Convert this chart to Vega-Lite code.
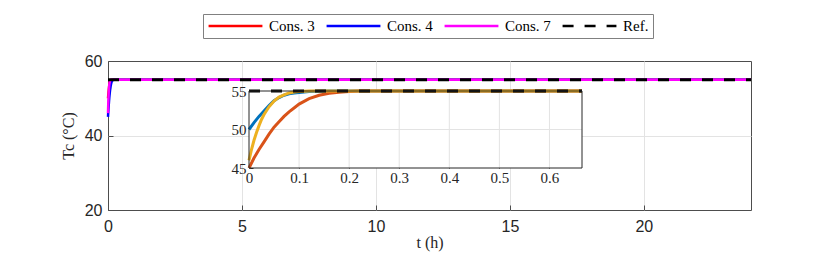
{
  "$schema": "https://vega.github.io/schema/vega-lite/v6.json",
  "autosize": {"type": "none"},
  "width": 643,
  "height": 149,
  "padding": {"left": 108, "top": 61, "right": 79, "bottom": 50},
  "background": "white",
  "config": {
    "view": {"stroke": "#4d4d4d", "strokeWidth": 1},
    "axis": {"domain": false, "ticks": false, "labelColor": "#262626", "titleColor": "#262626", "labelFlush": false}
  },
  "datasets": {
    "series": [
      {"series": "Cons. 3", "t": 0, "T": 50},
      {"series": "Cons. 3", "t": 0.01, "T": 50.9},
      {"series": "Cons. 3", "t": 0.02, "T": 51.7},
      {"series": "Cons. 3", "t": 0.03, "T": 52.4},
      {"series": "Cons. 3", "t": 0.04, "T": 53.1},
      {"series": "Cons. 3", "t": 0.05, "T": 53.75},
      {"series": "Cons. 3", "t": 0.06, "T": 54.15},
      {"series": "Cons. 3", "t": 0.07, "T": 54.45},
      {"series": "Cons. 3", "t": 0.08, "T": 54.65},
      {"series": "Cons. 3", "t": 0.09, "T": 54.75},
      {"series": "Cons. 3", "t": 0.1, "T": 54.82},
      {"series": "Cons. 3", "t": 0.12, "T": 54.92},
      {"series": "Cons. 3", "t": 0.14, "T": 54.97},
      {"series": "Cons. 3", "t": 0.16, "T": 55},
      {"series": "Cons. 3", "t": 0.665, "T": 55},
      {"series": "Cons. 3", "t": 24, "T": 55},
      {"series": "Cons. 4", "t": 0, "T": 45},
      {"series": "Cons. 4", "t": 0.01, "T": 46.3},
      {"series": "Cons. 4", "t": 0.02, "T": 47.4},
      {"series": "Cons. 4", "t": 0.03, "T": 48.4},
      {"series": "Cons. 4", "t": 0.04, "T": 49.4},
      {"series": "Cons. 4", "t": 0.05, "T": 50.3},
      {"series": "Cons. 4", "t": 0.06, "T": 51.0},
      {"series": "Cons. 4", "t": 0.07, "T": 51.7},
      {"series": "Cons. 4", "t": 0.08, "T": 52.3},
      {"series": "Cons. 4", "t": 0.09, "T": 52.8},
      {"series": "Cons. 4", "t": 0.1, "T": 53.3},
      {"series": "Cons. 4", "t": 0.12, "T": 54.0},
      {"series": "Cons. 4", "t": 0.14, "T": 54.45},
      {"series": "Cons. 4", "t": 0.16, "T": 54.7},
      {"series": "Cons. 4", "t": 0.18, "T": 54.85},
      {"series": "Cons. 4", "t": 0.2, "T": 54.95},
      {"series": "Cons. 4", "t": 0.22, "T": 55},
      {"series": "Cons. 4", "t": 0.665, "T": 55},
      {"series": "Cons. 4", "t": 24, "T": 55},
      {"series": "Cons. 7", "t": 0, "T": 46},
      {"series": "Cons. 7", "t": 0.005, "T": 47.4},
      {"series": "Cons. 7", "t": 0.01, "T": 48.6},
      {"series": "Cons. 7", "t": 0.015, "T": 49.6},
      {"series": "Cons. 7", "t": 0.02, "T": 50.5},
      {"series": "Cons. 7", "t": 0.025, "T": 51.3},
      {"series": "Cons. 7", "t": 0.03, "T": 51.95},
      {"series": "Cons. 7", "t": 0.04, "T": 52.95},
      {"series": "Cons. 7", "t": 0.05, "T": 53.7},
      {"series": "Cons. 7", "t": 0.06, "T": 54.2},
      {"series": "Cons. 7", "t": 0.07, "T": 54.5},
      {"series": "Cons. 7", "t": 0.08, "T": 54.75},
      {"series": "Cons. 7", "t": 0.09, "T": 54.88},
      {"series": "Cons. 7", "t": 0.1, "T": 54.95},
      {"series": "Cons. 7", "t": 0.12, "T": 55},
      {"series": "Cons. 7", "t": 0.665, "T": 55},
      {"series": "Cons. 7", "t": 24, "T": 55},
      {"series": "Ref.", "t": 0, "T": 55},
      {"series": "Ref.", "t": 0.665, "T": 55},
      {"series": "Ref.", "t": 24, "T": 55}
    ],
    "box": [{"x0": 0, "x1": 0.665, "y0": 45, "y1": 55}],
    "gridx": [
      {"t": 0.1, "lo": 45, "hi": 55},
      {"t": 0.2, "lo": 45, "hi": 55},
      {"t": 0.3, "lo": 45, "hi": 55},
      {"t": 0.4, "lo": 45, "hi": 55},
      {"t": 0.5, "lo": 45, "hi": 55},
      {"t": 0.6, "lo": 45, "hi": 55}
    ],
    "gridy": [{"T": 50, "a": 0, "b": 0.665}]
  },
  "layer": [
    {
      "layer": [
        {
          "data": {"name": "series"},
          "transform": [{"filter": "datum.series !== 'Ref.'"}],
          "mark": {"type": "line", "strokeWidth": 2.5},
          "encoding": {
            "x": {"field": "t", "type": "quantitative", "scale": {"domain": [0, 24], "nice": false},
              "axis": {"values": [0, 5, 10, 15, 20], "format": "d", "grid": true,
                "gridColor": {"condition": {"test": "datum.value === 0", "value": "transparent"}, "value": "#e3e3e3"},
                "ticks": true, "tickSize": -5, "tickColor": "#4d4d4d",
                "labelFont": "Liberation Sans", "labelFontSize": 16, "labelPadding": 13,
                "title": "t (h)", "titleFont": "Liberation Serif", "titleFontSize": 16, "titleFontWeight": "normal", "titlePadding": 0}},
            "y": {"field": "T", "type": "quantitative", "scale": {"domain": [20, 60], "nice": false},
              "axis": {"values": [20, 40, 60], "grid": true,
                "gridColor": {"condition": {"test": "datum.value === 20 || datum.value === 60", "value": "transparent"}, "value": "#e3e3e3"},
                "ticks": true, "tickSize": -5, "tickColor": "#4d4d4d",
                "labelFont": "Liberation Sans", "labelFontSize": 16, "labelPadding": 11,
                "title": "Tc (°C)", "titleFont": "Liberation Serif", "titleFontSize": 16, "titleFontWeight": "normal", "titlePadding": 8}},
            "color": {"field": "series", "type": "nominal",
              "scale": {"domain": ["Cons. 3", "Cons. 4", "Cons. 7", "Ref."], "range": ["#ff0000", "#0000ff", "#ff00ff", "#000000"]},
              "legend": {"orient": "none", "legendX": 95, "legendY": -47, "direction": "horizontal", "title": null,
                "symbolType": "stroke", "symbolSize": 2900, "symbolStrokeWidth": 2.5, "clipHeight": 16,
                "labelFont": "Liberation Serif", "labelFontSize": 15, "labelColor": "#000000",
                "fillColor": "white", "strokeColor": "#808080", "padding": 4, "columnPadding": 10, "labelOffset": 5}},
            "strokeDash": {"field": "series", "type": "nominal",
              "scale": {"domain": ["Cons. 3", "Cons. 4", "Cons. 7", "Ref."], "range": [[1, 0], [1, 0], [1, 0], [11, 11]]}}
          }
        },
        {
          "data": {"name": "series"},
          "transform": [{"filter": "datum.series === 'Ref.'"}],
          "mark": {"type": "line", "strokeWidth": 3},
          "encoding": {
            "x": {"field": "t", "type": "quantitative"},
            "y": {"field": "T", "type": "quantitative"},
            "color": {"field": "series", "type": "nominal"},
            "strokeDash": {"field": "series", "type": "nominal"}
          }
        }
      ]
    },
    {
      "layer": [
        {
          "data": {"name": "box"},
          "mark": {"type": "rect", "fill": "white", "stroke": null},
          "encoding": {
            "x": {"field": "x0", "type": "quantitative", "scale": {"domain": [0, 0.665], "range": [141, 474], "nice": false, "zero": false},
              "axis": {"orient": "bottom", "offset": -42, "values": [0, 0.1, 0.2, 0.3, 0.4, 0.5, 0.6], "format": "~g", "grid": false,
                "ticks": true, "tickSize": -4, "tickColor": "#262626",
                "labelFont": "Liberation Serif", "labelFontSize": 15, "labelColor": "#262626", "labelPadding": 6, "title": null}},
            "x2": {"field": "x1"},
            "y": {"field": "y0", "type": "quantitative", "scale": {"domain": [45, 55], "range": [107, 30], "nice": false, "zero": false},
              "axis": {"orient": "left", "offset": -141, "values": [45, 50, 55], "grid": false,
                "ticks": true, "tickSize": -4, "tickColor": "#262626",
                "labelFont": "Liberation Serif", "labelFontSize": 15, "labelColor": "#262626", "labelPadding": 7, "title": null}},
            "y2": {"field": "y1"}
          }
        },
        {
          "data": {"name": "gridx"},
          "mark": {"type": "rule", "color": "#e3e3e3", "strokeWidth": 1},
          "encoding": {
            "x": {"field": "t", "type": "quantitative"},
            "y": {"field": "lo", "type": "quantitative"},
            "y2": {"field": "hi"}
          }
        },
        {
          "data": {"name": "gridy"},
          "mark": {"type": "rule", "color": "#e3e3e3", "strokeWidth": 1},
          "encoding": {
            "y": {"field": "T", "type": "quantitative"},
            "x": {"field": "a", "type": "quantitative"},
            "x2": {"field": "b"}
          }
        },
        {
          "data": {"name": "series"},
          "transform": [{"filter": "datum.series !== 'Ref.' && datum.t <= 0.665"}],
          "mark": {"type": "line", "strokeWidth": 3},
          "encoding": {
            "x": {"field": "t", "type": "quantitative"},
            "y": {"field": "T", "type": "quantitative"},
            "color": {"field": "series", "type": "nominal",
              "scale": {"domain": ["Cons. 3", "Cons. 4", "Cons. 7"], "range": ["#0072BD", "#D95319", "#EDB120"]}, "legend": null}
          }
        },
        {
          "data": {"name": "series"},
          "transform": [{"filter": "datum.series === 'Ref.' && datum.t <= 0.665"}],
          "mark": {"type": "line", "strokeWidth": 3, "color": "#000000", "strokeDash": [11, 11]},
          "encoding": {
            "x": {"field": "t", "type": "quantitative"},
            "y": {"field": "T", "type": "quantitative"}
          }
        },
        {
          "data": {"name": "box"},
          "mark": {"type": "rect", "fill": null, "stroke": "#262626", "strokeWidth": 1},
          "encoding": {
            "x": {"field": "x0", "type": "quantitative"},
            "x2": {"field": "x1"},
            "y": {"field": "y0", "type": "quantitative"},
            "y2": {"field": "y1"}
          }
        }
      ]
    }
  ],
  "resolve": {"scale": {"x": "independent", "y": "independent", "color": "independent", "strokeDash": "independent"}}
}
